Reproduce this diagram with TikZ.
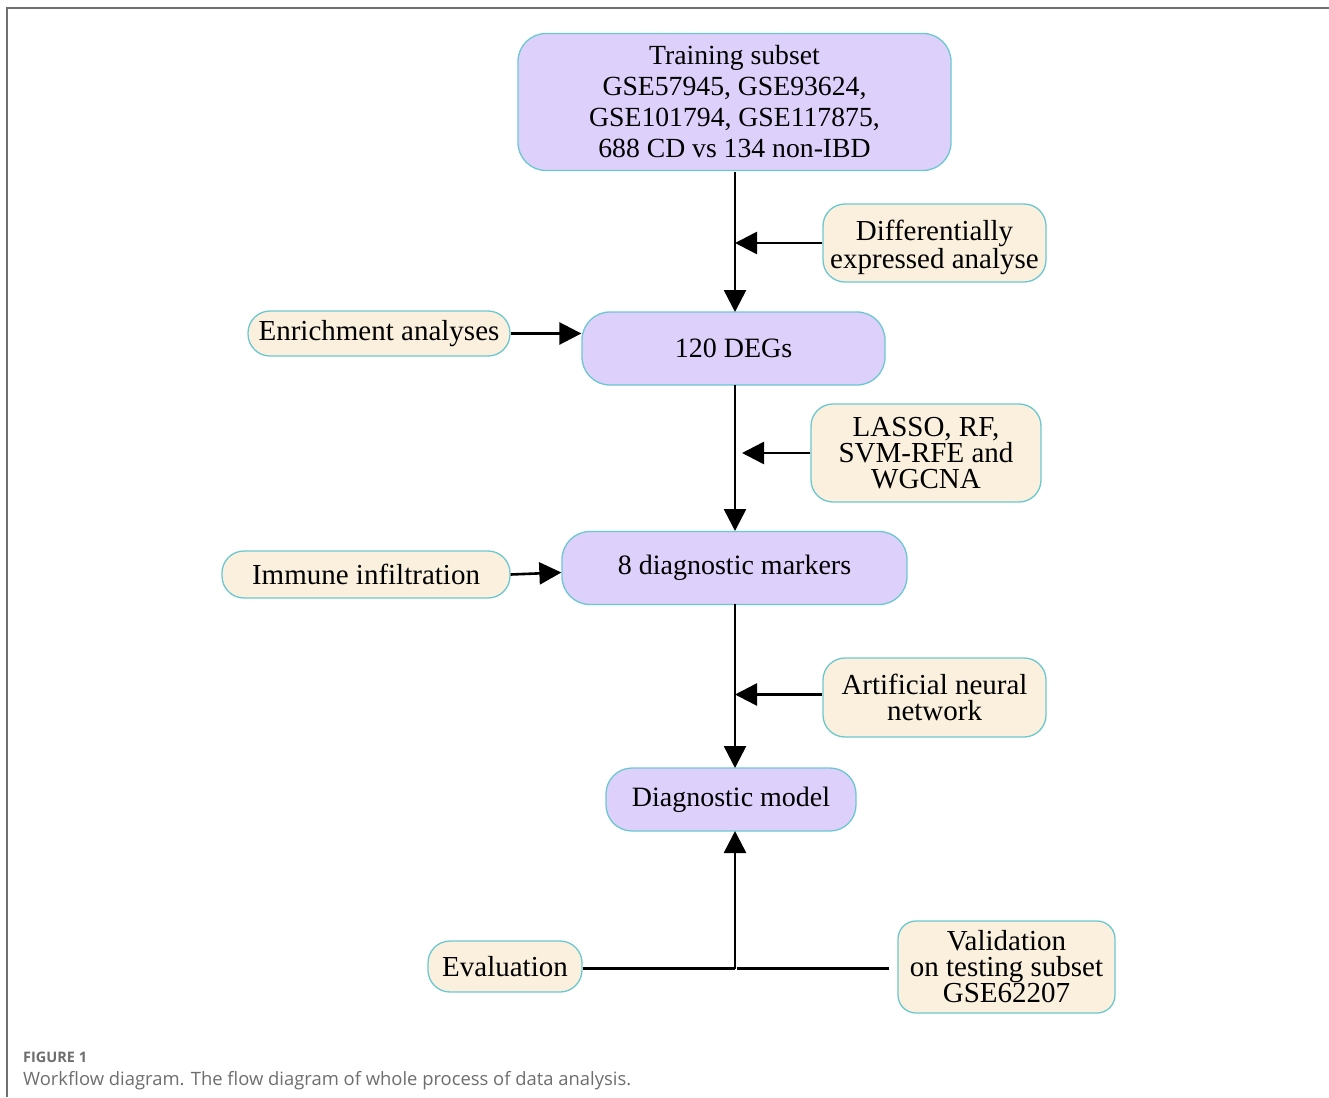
\documentclass[tikz,border=0pt]{standalone}
\usepackage{fontspec}
\setmainfont{Liberation Serif}
\newfontfamily\capfont{Open Sans}
\usetikzlibrary{arrows.meta,calc}
\definecolor{pfill}{RGB}{221,208,251}
\definecolor{cfill}{RGB}{250,240,221}
\definecolor{bline}{RGB}{108,200,208}
\definecolor{frame}{RGB}{112,112,112}
\definecolor{captxt}{RGB}{110,110,110}
\begin{document}
\begin{tikzpicture}[x=1pt,y=-1pt,
  pbox/.style={draw=bline,line width=1.3pt,fill=pfill,rounded corners=28pt,align=center,inner sep=0pt,font=\fontsize{28}{31}\selectfont},
  cbox/.style={draw=bline,line width=1.3pt,fill=cfill,rounded corners=22pt,align=center,inner sep=0pt,font=\fontsize{29}{26}\selectfont},
  arr/.style={line width=2.6pt,-{Triangle[length=22pt,width=22pt]}},
  conn/.style={line width=2.6pt}]
\useasboundingbox (0,0) rectangle (1329,1097);
\fill[white] (0,0) rectangle (1329,1097);
\draw[frame,line width=2pt] (7,1097) -- (7,8) -- (1329,8);

\node[pbox,minimum width=433pt,minimum height=137pt,font=\fontsize{27.7}{31}\selectfont] (train) at (734.5,102)
  {Training subset\\GSE57945, GSE93624,\\GSE101794, GSE117875,\\688 CD vs 134 non-IBD};
\node[draw=bline,line width=1.3pt,fill=cfill,rounded corners=22pt,minimum width=223pt,minimum height=78pt] (diff) at (934.5,243) {};
\node[align=center,inner sep=0pt,font=\fontsize{29}{25}\selectfont] (difftext) at (934.5,247.5) {Differentially\\expressed analyse};
\node[pbox,minimum width=303pt,minimum height=73pt] (deg) at (733.5,348.5) {120 DEGs};
\node[cbox,minimum width=262pt,minimum height=45pt] (enrich) at (379,333.5) {Enrichment analyses};
\node[cbox,minimum width=230pt,minimum height=98pt] (lasso) at (926,453) {LASSO, RF,\\SVM-RFE and\\WGCNA};
\node[pbox,minimum width=345pt,minimum height=73pt] (mark) at (734.5,568) {8 diagnostic markers};
\node[cbox,minimum width=288pt,minimum height=47pt] (immune) at (366,574.5) {Immune infiltration};
\node[cbox,minimum width=223pt,minimum height=79pt] (ann) at (934.5,697.5) {Artificial neural\\network};
\node[pbox,minimum width=250pt,minimum height=63pt,rounded corners=26pt] (model) at (731,799.5) {Diagnostic model};
\node[cbox,minimum width=154pt,minimum height=51pt] (eval) at (505,966.5) {Evaluation};
\node[cbox,minimum width=217pt,minimum height=92pt,rounded corners=18pt] (valid) at (1006.5,967) {Validation\\on testing subset\\GSE62207};
\coordinate (j) at (735,968.5);

\draw[arr] (735,172) -- (735,312);
\draw[arr] (diff.west) -- (735,243);
\draw[arr] (enrich.east) -- (enrich.east -| deg.west);
\draw[arr] (735,385) -- (735,531);
\draw[arr] (lasso.west) -- (742,453);
\draw[arr] (immune.east) -- ([yshift=2pt]immune.east -| mark.west);
\draw[arr] (735,604) -- (735,768);
\draw[arr] ([yshift=3pt]ann.west) -- (735,694.5);
\draw[arr] (j) -- (735,831);
\draw[conn] (eval.east |- j) -- (j);
\draw[conn] ([xshift=-8pt]valid.west |- j) -- ([xshift=2pt]j);

\node[anchor=west,inner sep=0pt,text=captxt,font=\capfont\bfseries\fontsize{14.5}{16}\selectfont] (fig) at (23,1057) {FIGURE 1};
\node[anchor=west,inner sep=0pt,text=captxt,font=\capfont\fontsize{18.4}{21}\selectfont] (cap) at (23,1081) {Workflow diagram. The flow diagram of whole process of data analysis.};
\end{tikzpicture}
\end{document}
